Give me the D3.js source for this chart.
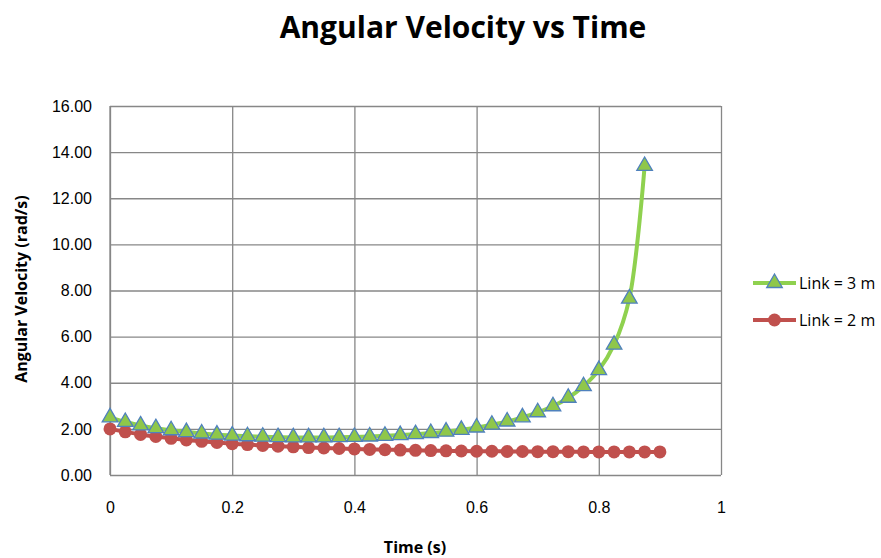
<!DOCTYPE html>
<html>
<head>
<meta charset="utf-8">
<script src="https://cdn.jsdelivr.net/npm/d3@7"></script>
<style>
  body { margin: 0; background: #fff; }
  svg { display: block; font-family: "Open Sans", "Noto Sans", sans-serif; }
</style>
</head>
<body>
<svg width="881" height="558"></svg>
<script>
var width = 881;
var height = 558;

// Time (s) for each series
var timeLink3 = [0, 0.025, 0.05, 0.075, 0.1, 0.125, 0.15, 0.175, 0.2, 0.225, 0.25, 0.275,
  0.3, 0.325, 0.35, 0.375, 0.4, 0.425, 0.45, 0.475, 0.5, 0.525, 0.55, 0.575,
  0.6, 0.625, 0.65, 0.675, 0.7, 0.725, 0.75, 0.775, 0.8, 0.825, 0.85, 0.875];
var omegaLink3 = [2.50, 2.30, 2.15, 2.03, 1.94, 1.86, 1.80, 1.75, 1.71, 1.68, 1.66, 1.64,
  1.63, 1.63, 1.63, 1.64, 1.65, 1.67, 1.70, 1.73, 1.77, 1.82, 1.88, 1.96,
  2.06, 2.18, 2.32, 2.50, 2.72, 2.98, 3.35, 3.85, 4.55, 5.65, 7.65, 13.40];

var timeLink2 = [0, 0.025, 0.05, 0.075, 0.1, 0.125, 0.15, 0.175, 0.2, 0.225, 0.25, 0.275,
  0.3, 0.325, 0.35, 0.375, 0.4, 0.425, 0.45, 0.475, 0.5, 0.525, 0.55, 0.575,
  0.6, 0.625, 0.65, 0.675, 0.7, 0.725, 0.75, 0.775, 0.8, 0.825, 0.85, 0.875, 0.9];
var omegaLink2 = [2.00, 1.87, 1.76, 1.67, 1.59, 1.52, 1.46, 1.41, 1.36, 1.32, 1.28, 1.25,
  1.22, 1.19, 1.17, 1.15, 1.13, 1.11, 1.10, 1.08, 1.07, 1.06, 1.05, 1.04,
  1.03, 1.03, 1.02, 1.02, 1.01, 1.01, 1.01, 1.00, 1.00, 1.00, 1.00, 1.00, 1.00];

var xTicks = [0, 0.2, 0.4, 0.6, 0.8, 1];
var yTicks = [0, 2, 4, 6, 8, 10, 12, 14, 16];
var seriesNames = ["Link = 3 m", "Link = 2 m"];

var plot = { left: 110, right: 721, top: 106, bottom: 475 };

var xScale = d3.scaleLinear().domain([0, 1]).range([plot.left, plot.right]);
var yScale = d3.scaleLinear().domain([0, 16]).range([plot.bottom, plot.top]);

var svg = d3.select("svg");

// Gridlines + tick labels
svg.append("g")
  .attr("transform", `translate(0, ${plot.bottom})`)
  .call(d3.axisBottom(xScale).tickValues(xTicks)
    .tickSize(-(plot.bottom - plot.top)).tickSizeOuter(0).tickFormat(d3.format("")))
  .call(g => g.select(".domain").remove())
  .call(g => g.selectAll("line").attr("stroke", "#878787").attr("stroke-width", 1.3))
  .call(g => g.selectAll("text").attr("y", 38).attr("dy", 0)
    .attr("fill", "#000").style("font-size", "16px"));

svg.append("g")
  .attr("transform", `translate(${plot.left}, 0)`)
  .call(d3.axisLeft(yScale).tickValues(yTicks)
    .tickSize(-(plot.right - plot.left)).tickSizeOuter(0).tickFormat(d3.format(".2f")))
  .call(g => g.select(".domain").remove())
  .call(g => g.selectAll("line").attr("stroke", "#878787").attr("stroke-width", 1.3))
  .call(g => g.selectAll("text").attr("x", -18)
    .attr("fill", "#000").style("font-size", "16px"));

// Axis line
svg.append("line")
  .attr("x1", plot.left).attr("x2", plot.left)
  .attr("y1", plot.top).attr("y2", plot.bottom)
  .attr("stroke", "#878787").attr("stroke-width", 1.3);

// Title
svg.append("text")
  .attr("x", 463).attr("y", 38)
  .style("text-anchor", "middle")
  .style("font-size", "30px")
  .style("font-weight", "bold")
  .text("Angular Velocity vs Time");

// Axis titles
svg.append("text")
  .attr("transform", "rotate(-90)")
  .attr("x", -289).attr("y", 27)
  .style("text-anchor", "middle")
  .style("font-size", "16px")
  .style("font-weight", "bold")
  .text("Angular Velocity (rad/s)");

svg.append("text")
  .attr("x", 415).attr("y", 553)
  .style("text-anchor", "middle")
  .style("font-size", "16px")
  .style("font-weight", "bold")
  .text("Time (s)");

var line = d3.line()
  .x(d => xScale(d[0]))
  .y(d => yScale(d[1]))
  .curve(d3.curveCatmullRom);

var link3 = d3.zip(timeLink3, omegaLink3);
var link2 = d3.zip(timeLink2, omegaLink2);

var green = "#8fd14f";
var triFill = "#8fc74a";
var triStroke = "#4f81bd";
var red = "#c0504d";

var triangle = d3.symbol().type(d3.symbolTriangle).size(105);

// Link = 2 m
svg.append("path")
  .datum(link2)
  .attr("d", line)
  .attr("fill", "none")
  .attr("stroke", red)
  .attr("stroke-width", 4);

svg.append("g").selectAll("circle")
  .data(link2)
  .enter()
  .append("circle")
    .attr("cx", d => xScale(d[0]))
    .attr("cy", d => yScale(d[1]))
    .attr("r", 6.5)
    .attr("fill", red);

// Link = 3 m
svg.append("path")
  .datum(link3)
  .attr("d", line)
  .attr("fill", "none")
  .attr("stroke", green)
  .attr("stroke-width", 4);

svg.append("g").selectAll("path")
  .data(link3)
  .enter()
  .append("path")
    .attr("d", triangle)
    .attr("transform", d => `translate(${xScale(d[0])}, ${yScale(d[1])})`)
    .attr("fill", triFill)
    .attr("stroke", triStroke)
    .attr("stroke-width", 1.3);

// Legend
var legend = svg.append("g").selectAll("g")
  .data(seriesNames)
  .enter()
  .append("g")
    .attr("transform", (d, i) => `translate(753, ${283 + i * 37})`);

legend.append("line")
  .attr("x1", 0).attr("x2", 43)
  .attr("stroke", (d, i) => i === 0 ? green : red)
  .attr("stroke-width", 4);

legend.filter((d, i) => i === 0).append("path")
  .attr("d", triangle)
  .attr("transform", "translate(21.5, 0)")
  .attr("fill", triFill)
  .attr("stroke", triStroke)
  .attr("stroke-width", 1.3);

legend.filter((d, i) => i === 1).append("circle")
  .attr("cx", 21.5)
  .attr("r", 6.5)
  .attr("fill", red);

legend.append("text")
  .attr("x", 46).attr("dy", "0.35em")
  .style("font-size", "16px")
  .text(d => d);
</script>
</body>
</html>
